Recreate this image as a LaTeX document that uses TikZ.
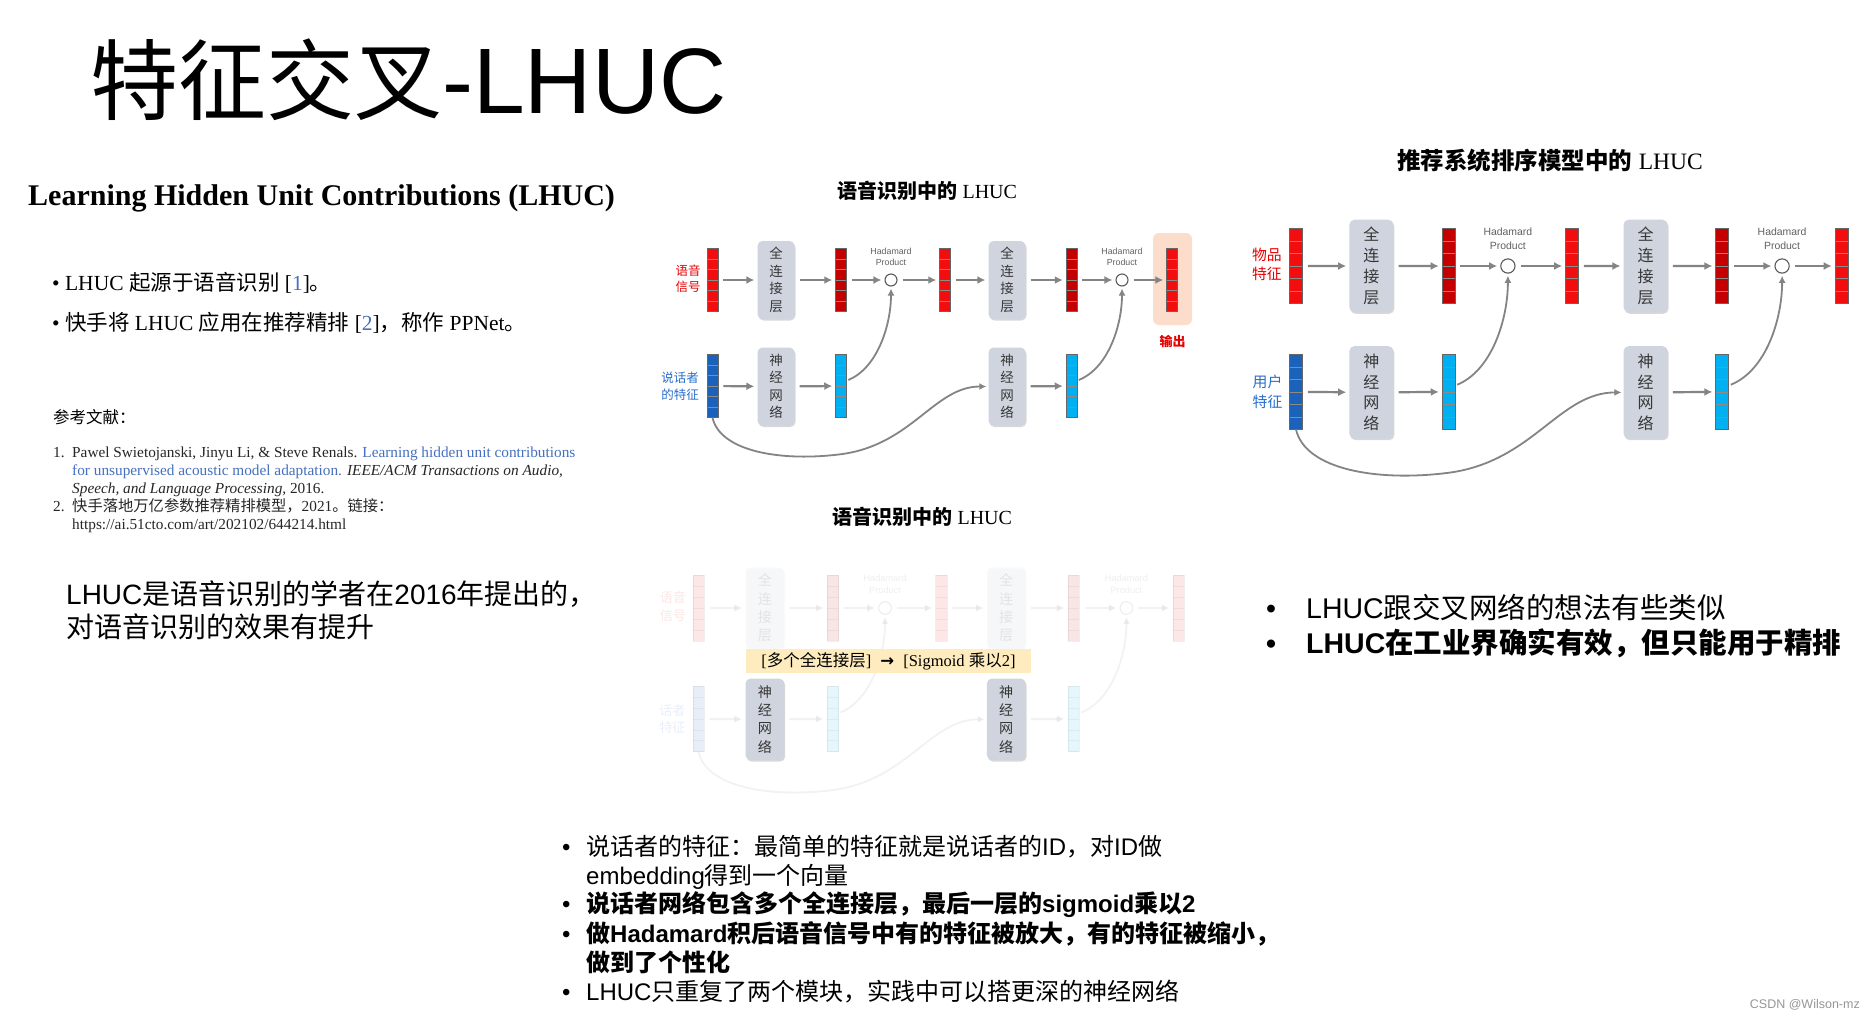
\documentclass[tikz,border=0pt]{standalone}
\usepackage{fontspec}
\setmainfont{Liberation Sans}
\newfontfamily\cjk{Noto Sans CJK SC}
\newfontfamily\serif{Liberation Serif}
\newfontfamily\sym{DejaVu Sans}
\usetikzlibrary{arrows.meta,calc,shadows}
\definecolor{redbar}{RGB}{242,14,14}
\definecolor{darkred}{RGB}{196,0,0}
\definecolor{bluebar}{RGB}{26,98,186}
\definecolor{cyanbar}{RGB}{0,176,240}
\definecolor{arrowgray}{RGB}{132,132,132}
\definecolor{boxfill}{RGB}{207,212,222}
\definecolor{boxtext}{RGB}{55,55,55}
\definecolor{peach}{RGB}{252,221,204}
\definecolor{bannerfill}{RGB}{254,236,190}
\definecolor{labred}{RGB}{232,0,0}
\definecolor{labblue}{RGB}{40,110,205}
\definecolor{linkblue}{RGB}{70,112,190}
\definecolor{wmgray}{RGB}{150,150,150}
\tikzset{
  bar/.style={rectangle, minimum width=11pt, minimum height=63pt, inner sep=0pt,
    draw=black!60, line width=0.5pt,
    path picture={\foreach \k in {1,...,5}{\draw[black!45,line width=0.5pt]
      ($(path picture bounding box.north west)!\k/6!(path picture bounding box.south west)$) --
      ($(path picture bounding box.north east)!\k/6!(path picture bounding box.south east)$);}}},
  fcbox/.style={rectangle, rounded corners=5pt, fill=boxfill, minimum width=37pt,
    minimum height=78pt, inner sep=0pt, align=center, text=boxtext,
    font=\cjk\fontsize{13.5}{17.5}\selectfont,
    drop shadow={shadow xshift=1pt, shadow yshift=-1.5pt, opacity=#1, fill=black!50}},
  fcbox/.default=0.3,
  hcirc/.style={circle, draw=black!65, line width=1.1pt, fill=white, minimum size=12pt, inner sep=0pt},
  hlabel/.style={font=\fontsize{8.8}{11.5}\selectfont, text=black!62, align=center, inner sep=0pt},
  toplab/.style={font=\cjk\fontsize{12.5}{16.5}\selectfont, text=labred, align=center, inner sep=0pt},
  botlab/.style={font=\cjk\fontsize{12.5}{16.5}\selectfont, text=labblue, align=center, inner sep=0pt},
  conn/.style={draw=arrowgray, line width=2.2pt, -{Latex[length=8pt,width=8pt]}, shorten <=5pt, shorten >=3pt},
  cconn/.style={draw=arrowgray, line width=1.8pt, -{Latex[length=7pt,width=7pt]}, shorten >=2pt},
  txt/.style={anchor=base west, inner sep=0pt},
}
% #1 prefix, #2 x, #3 y, #4 scale, #5 top label, #6 bottom label, #7 bottom label x, #8 fade
\newcommand{\lhucdiag}[8]{%
\begin{scope}[shift={(#2,#3)}, scale=#4, transform shape, name prefix=#1-]
  \begin{scope}[opacity=#8]
    \node[bar, fill=redbar] (tin) at (0,0) {};
    \node[fcbox=0.3*#8] (fc1) at (63.5,0) {全\\连\\接\\层};
    \node[bar, fill=darkred] (h1) at (128.5,0) {};
    \node[hcirc] (c1) at (178.5,0) {};
    \node[hlabel] (hl1) at (178.5,-23) {Hadamard\\Product};
    \node[bar, fill=redbar] (m1) at (232.5,0) {};
    \node[fcbox=0.3*#8] (fc2) at (294.5,0) {全\\连\\接\\层};
    \node[bar, fill=darkred] (h2) at (359,0) {};
    \node[hcirc] (c2) at (409.5,0) {};
    \node[hlabel] (hl2) at (409.5,-23) {Hadamard\\Product};
    \node[bar, fill=redbar] (out) at (459.5,0) {};
    \node[bar, fill=bluebar] (bin) at (0,106) {};
    \node[bar, fill=cyanbar] (g1) at (128.5,106) {};
    \node[bar, fill=cyanbar] (g2) at (359,106) {};
    \node[toplab] (lt) at (-24.5,-1.5) {#5};
    \node[botlab] (lb) at (#7,106) {#6};
  \end{scope}
  \node[fcbox] (nn1) at (63.5,106.5) {神\\经\\网\\络};
  \node[fcbox] (nn2) at (294.5,106.5) {神\\经\\网\\络};
  \begin{scope}[opacity=#8]
    \draw[conn] (tin) -- (fc1);
    \draw[conn] (fc1) -- (h1);
    \draw[conn] (h1) -- (c1);
    \draw[conn] (c1) -- (m1);
    \draw[conn] (m1) -- (fc2);
    \draw[conn] (fc2) -- (h2);
    \draw[conn] (h2) -- (c2);
    \draw[conn] (c2) -- (out);
    \draw[conn] (bin) -- (nn1);
    \draw[conn] (nn1) -- (g1);
    \draw[conn] (nn2) -- (g2);
    \draw[cconn] ($(g1.east)+(1.5,-6)$) .. controls (165,88) and (178.5,45) .. (c1.south);
    \draw[cconn] ($(g2.east)+(1.5,-6)$) .. controls (396,88) and (409.5,45) .. (c2.south);
    \draw[cconn] (bin.south) .. controls (8,172) and (70,182) .. (130,174)
                 .. controls (200,164) and (222,106.5) .. (nn2.west);
  \end{scope}
\end{scope}}

\begin{document}
\begin{tikzpicture}[x=1pt,y=-1pt]
\useasboundingbox (0,0) rectangle (1876,1018);
\fill[white] (0,0) rectangle (1876,1018);

% main title
\node[txt, font=\fontsize{88}{96}\selectfont] (title) at (90,113) {{\cjk 特征交叉}{\fontsize{93}{96}\selectfont -LHUC}};

% left: paper excerpt
\node[txt, font=\serif\bfseries\fontsize{30}{36}\selectfont] (lhead) at (28,205) {Learning Hidden Unit Contributions (LHUC)};
\node[txt, font=\serif\fontsize{21.5}{25}\selectfont] (lb1) at (52,290) {• LHUC {\cjk 起源于语音识别} [\textcolor{linkblue}{1}]{\cjk 。}};
\node[txt, font=\serif\fontsize{21.5}{25}\selectfont] (lb2) at (52,330) {• {\cjk 快手将} LHUC {\cjk 应用在推荐精排} [\textcolor{linkblue}{2}]{\cjk ，称作} PPNet{\cjk 。}};
\node[txt, font=\cjk\fontsize{16.5}{20}\selectfont] (refh) at (53,423) {参考文献：};
\begin{scope}[every node/.style={txt, font=\serif\fontsize{15.3}{18}\selectfont, text=black!85}]
  \node (r1n) at (53,457) {1.};
  \node (r1a) at (72,457) {Pawel Swietojanski, Jinyu Li, \& Steve Renals. \textcolor{linkblue}{Learning hidden unit contributions}};
  \node (r1b) at (72,475) {\textcolor{linkblue}{for unsupervised acoustic model adaptation.} \textit{IEEE/ACM Transactions on Audio,}};
  \node (r1c) at (72,493) {\textit{Speech, and Language Processing,} 2016.};
  \node (r2n) at (53,511) {2.};
  \node (r2a) at (72,511) {{\cjk 快手落地万亿参数推荐精排模型，}2021{\cjk 。链接：}};
  \node (r2b) at (72,529) {https://ai.51cto.com/art/202102/644214.html};
\end{scope}

% left paragraph
\node[txt, font=\fontsize{28}{33}\selectfont] (lp1) at (66,604) {LHUC{\cjk 是语音识别的学者在}2016{\cjk 年提出的，}};
\node[txt, font=\fontsize{28}{33}\selectfont] (lp2) at (66,637) {{\cjk 对语音识别的效果有提升}};

% middle diagram
\node[anchor=base, inner sep=0pt, font=\fontsize{20}{24}\selectfont] (t1) at (927,198) {{\cjk\bfseries 语音识别中的} {\serif LHUC}};
\node[rectangle, rounded corners=6pt, fill=peach, minimum width=39pt, minimum height=92pt, inner sep=0pt] (outhl) at (1172.5,279) {};
\lhucdiag{m}{712.5}{280}{1}{语音\\信号}{说话者\\的特征}{-32.5}{1}
\node[font=\cjk\bfseries\fontsize{13}{16}\selectfont, text=labred, inner sep=0pt] (outlab) at (1172.5,341) {输出};

% right diagram
\node[anchor=base, inner sep=0pt, font=\fontsize{23.5}{28}\selectfont] (t2) at (1550,169) {{\cjk\bfseries 推荐系统排序模型中的} {\serif LHUC}};
\lhucdiag{r}{1296}{266}{1.187}{物品\\特征}{用户\\特征}{-24}{1}

% bottom diagram (faded)
\node[anchor=base, inner sep=0pt, font=\fontsize{20}{24}\selectfont] (t3) at (922,524) {{\cjk\bfseries 语音识别中的} {\serif LHUC}};
\lhucdiag{b}{698.5}{608}{1.045}{语音\\信号}{话者\\特征}{-25}{0.1}
\node[rectangle, fill=bannerfill, minimum width=285pt, minimum height=24pt, inner sep=0pt,
      font=\serif\fontsize{16.5}{19}\selectfont] (banner) at (888.5,661)
      {[{\cjk 多个全连接层}]\hspace{9pt}{\sym\bfseries →}\hspace{9pt}[Sigmoid {\cjk 乘以}2]};

% right bullets
\node[txt, font=\fontsize{28.5}{34}\selectfont] (rb1d) at (1266,618) {•};
\node[txt, font=\fontsize{28.5}{34}\selectfont] (rb1) at (1306,618) {LHUC{\cjk 跟交叉网络的想法有些类似}};
\node[txt, font=\bfseries\fontsize{28.5}{34}\selectfont] (rb2d) at (1266,653) {•};
\node[txt, font=\bfseries\fontsize{28.5}{34}\selectfont] (rb2) at (1306,653) {LHUC{\cjk 在工业界确实有效，但只能用于精排}};

% bottom bullets
\begin{scope}[every node/.style={txt, font=\fontsize{24}{29}\selectfont}]
  \node (bb1d) at (562,855) {•};
  \node (bb1) at (586,855) {{\cjk 说话者的特征：最简单的特征就是说话者的}ID{\cjk ，对}ID{\cjk 做}};
  \node (bb2) at (586,884) {embedding{\cjk 得到一个向量}};
  \node (bb3d) at (562,912) {•};
  \node[font=\bfseries\fontsize{24}{29}\selectfont] (bb3) at (586,912) {{\cjk 说话者网络包含多个全连接层，最后一层的}sigmoid{\cjk 乘以}2};
  \node (bb4d) at (562,942) {•};
  \node[font=\bfseries\fontsize{24}{29}\selectfont] (bb4) at (586,942) {{\cjk 做}Hadamard{\cjk 积后语音信号中有的特征被放大，有的特征被缩小，}};
  \node[font=\bfseries\fontsize{24}{29}\selectfont] (bb5) at (586,971) {{\cjk 做到了个性化}};
  \node (bb6d) at (562,1000) {•};
  \node (bb6) at (586,1000) {LHUC{\cjk 只重复了两个模块，实践中可以搭更深的神经网络}};
\end{scope}

% watermark
\node[anchor=base east, inner sep=0pt, font=\fontsize{12.5}{15}\selectfont, text=wmgray] (wm) at (1860,1008) {CSDN @Wilson-mz};
\end{tikzpicture}
\end{document}
